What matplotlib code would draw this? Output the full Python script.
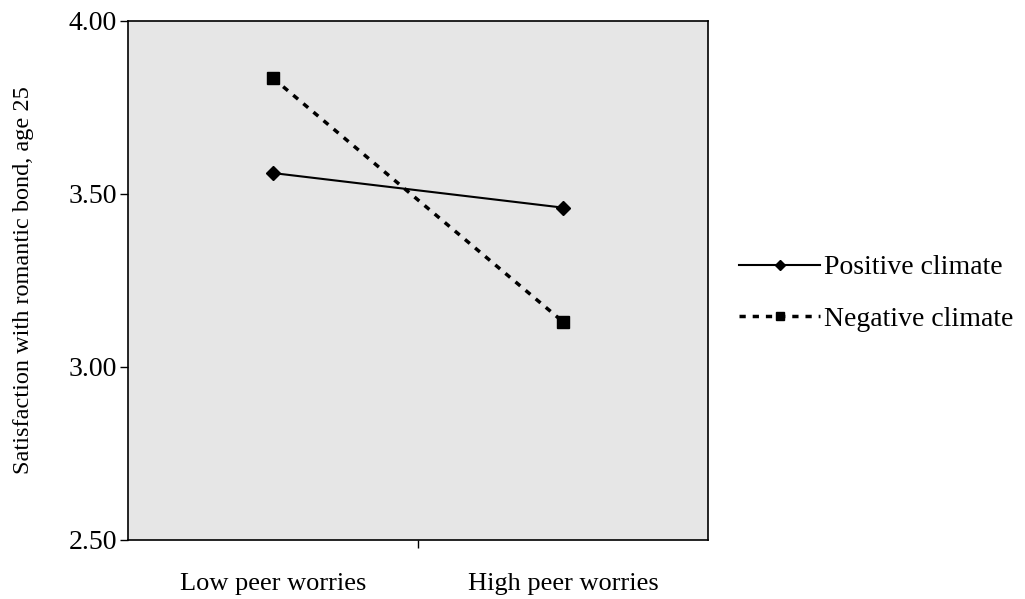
import matplotlib.pyplot as plt

plt.rcParams['font.family'] = ['Liberation Serif', 'DejaVu Serif']

# data
groups = ["Low peer worries", "High peer worries"]
positive = [3.56, 3.46]
negative = [3.834, 3.13]
series_names = ["Positive climate", "Negative climate"]
yticks = [2.50, 3.00, 3.50, 4.00]

fig = plt.figure(figsize=(10.25, 5.99), dpi=100)
ax = fig.add_axes([0.1249, 0.0985, 0.566, 0.8669])
ax.set_facecolor("#e6e6e6")

xpos = list(range(len(groups)))
ax.plot(xpos, positive, color="black", linewidth=1.5, marker="D",
        markersize=7, label=series_names[0])
ax.plot(xpos, negative, color="black", linewidth=2.5, linestyle=(0, (1.8, 2.0)),
        marker="s", markersize=8, label=series_names[1])

ax.set_xlim(-0.5, 1.5)
ax.set_ylim(2.5, 4.0)
ax.set_yticks(yticks)
ax.set_yticklabels([f"{v:.2f}" for v in yticks], fontsize=20)
ax.set_xticks([0.5])
ax.set_xticklabels([""])
ax.set_xticks(xpos, minor=True)
ax.set_xticklabels(groups, minor=True, fontsize=19)
ax.tick_params(axis="x", which="minor", length=0, pad=24)
ax.tick_params(axis="y", which="major", pad=2)
ax.tick_params(axis="both", which="major", length=6, width=1, color="black")

for sp in ax.spines.values():
    sp.set_linewidth(1.2)
    sp.set_color("black")

ax.set_ylabel("Satisfaction with romantic bond, age 25", fontsize=17.5, labelpad=25)

leg = fig.legend(loc="center left", bbox_to_anchor=(0.697, 0.51), frameon=False,
                 fontsize=20, handlelength=2.9, handletextpad=0.15,
                 labelspacing=0.95, markerscale=0.75)

fig.savefig("out.png", dpi=100)
